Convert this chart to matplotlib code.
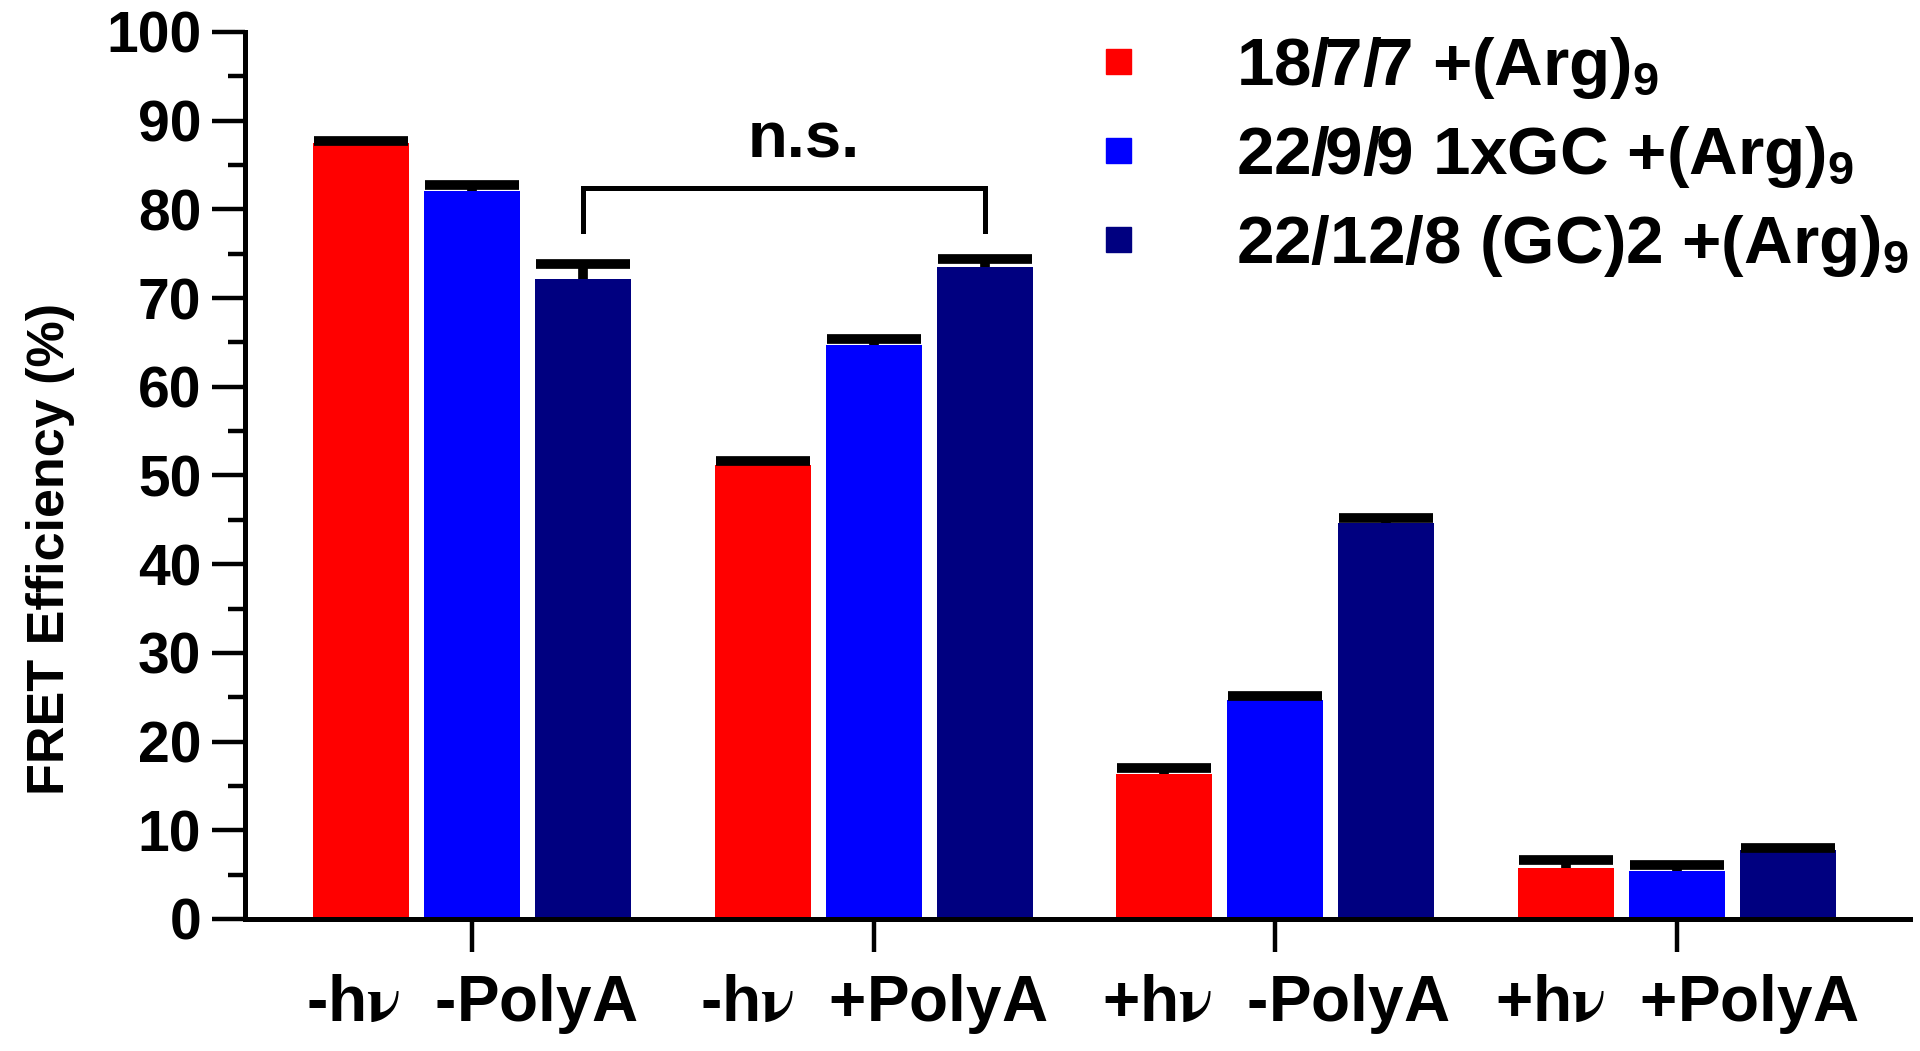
import numpy as np
import matplotlib
matplotlib.use("Agg")
import matplotlib.pyplot as plt
from matplotlib.lines import Line2D

plt.rcParams['font.family'] = ['Liberation Sans', 'DejaVu Sans']
plt.rcParams['font.weight'] = 'bold'
plt.rcParams['mathtext.fontset'] = 'stix'
plt.rcParams['mathtext.default'] = 'regular'

# data
groups = [r"-h$\mathrm{\nu}$  -PolyA", r"-h$\mathrm{\nu}$  +PolyA",
          r"+h$\mathrm{\nu}$  -PolyA", r"+h$\mathrm{\nu}$  +PolyA"]
series = ["18/7/7 +(Arg)$_9$", "22/9/9 1xGC +(Arg)$_9$", "22/12/8 (GC)2 +(Arg)$_9$"]
colors = ["#ff0000", "#0000ff", "#000080"]

red = [87.5, 51.2, 16.4, 5.8]
red_err = [0.2, 0.4, 0.6, 0.8]
blue = [82.1, 64.7, 24.7, 5.4]
blue_err = [0.7, 0.7, 0.4, 0.7]
navy = [72.2, 73.5, 44.6, 7.8]
navy_err = [1.6, 0.9, 0.6, 0.25]

values = [red, blue, navy]
errors = [red_err, blue_err, navy_err]

fig = plt.figure(figsize=(19.2, 10.51), dpi=100)
ax = fig.add_axes([0.1276, 0.1256, 0.9948 - 0.1276, 0.9696 - 0.1256])

x = np.arange(len(groups))
offs = [-0.2765, 0.0, 0.2765]
w = 0.239
for vals, errs, c, off in zip(values, errors, colors, offs):
    ax.bar(x + off, vals, width=w, color=c, zorder=1)
    # only the upper half of the error bar, like the original
    _, caps, _ = ax.errorbar(x + off, vals, yerr=[np.zeros(len(errs)), errs], fmt='none',
                             ecolor='black', elinewidth=7, capsize=34, capthick=7, zorder=2)
    caps[0].set_visible(False)

# n.s. bracket between the two (GC)2 bars
x1, x2 = 0 + offs[2], 1 + offs[2]
ax.plot([x1, x1, x2, x2], [77.6, 82.4, 82.4, 77.6], color='black', lw=3.6,
        solid_joinstyle='miter', zorder=3)
ax.text(0.825, 85.8, "n.s.", ha='center', va='baseline', fontsize=47)

ax.set_xlim(-0.565, 3.58)
ax.set_ylim(0, 100)
ax.set_yticks(np.arange(0, 101, 10))
ax.set_yticks(np.arange(5, 100, 10), minor=True)
ax.set_xticks(x, groups)

for s in ['top', 'right']:
    ax.spines[s].set_visible(False)
for s in ['left', 'bottom']:
    ax.spines[s].set_linewidth(3.6)

ax.tick_params(axis='y', which='major', length=24, width=3.2, labelsize=41, pad=7.5)
ax.tick_params(axis='y', which='minor', length=12, width=3.2)
ax.tick_params(axis='x', which='major', length=24, width=3.2, labelsize=46, pad=14)

ax.set_ylabel("FRET Efficiency (%)", fontsize=37.5, fontweight='bold')
ax.yaxis.set_label_coords(-0.102, 0.417)

handles = [Line2D([], [], marker='s', linestyle='none', markersize=18,
                  markerfacecolor=c, markeredgecolor=c) for c in colors]
fig.legend(handles, series, loc='center left', bbox_to_anchor=(0.5645, 0.8507),
           frameon=False, fontsize=48.5, handlelength=1.0, handletextpad=1.26,
           labelspacing=0.34, borderpad=0, borderaxespad=0)

fig.savefig("out.png", dpi=100)
